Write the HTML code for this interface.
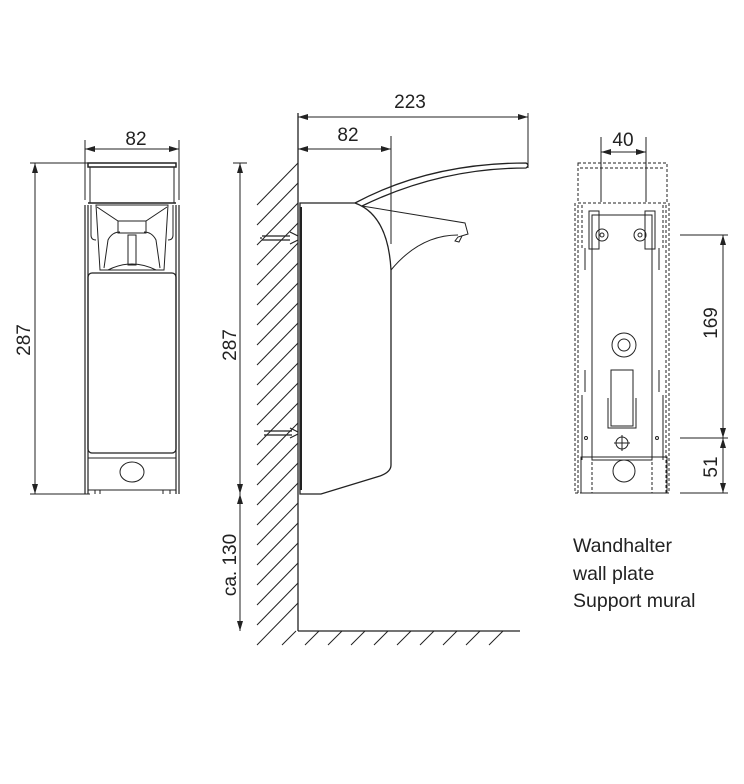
<!DOCTYPE html>
<html><head><meta charset="utf-8"><style>
html,body{margin:0;padding:0;background:#fff;}
svg{display:block;}
text{font-family:"Liberation Sans","DejaVu Sans",sans-serif;fill:#222;}
</style></head><body>
<svg width="744" height="784" viewBox="0 0 744 784" xmlns="http://www.w3.org/2000/svg">
<defs>
<marker id="a" viewBox="0 0 10 6" refX="10" refY="3" markerWidth="10" markerHeight="6" orient="auto-start-reverse" markerUnits="userSpaceOnUse"><path d="M0,0L10,3L0,6z" fill="#222"/></marker>
</defs>
<g stroke="#222" stroke-width="1" fill="none">
<!-- FRONT VIEW -->
<line x1="85" y1="140" x2="85" y2="200"/><line x1="179" y1="140" x2="179" y2="200"/>
<line x1="85" y1="149" x2="179" y2="149" marker-start="url(#a)" marker-end="url(#a)"/>
<line x1="30" y1="163" x2="90" y2="163"/><line x1="30" y1="494" x2="90" y2="494"/>
<line x1="35" y1="163" x2="35" y2="494" marker-start="url(#a)" marker-end="url(#a)"/>
<rect x="88" y="163" width="88" height="4" stroke-width="1.5"/>
<line x1="90" y1="167" x2="90" y2="203"/><line x1="174" y1="167" x2="174" y2="203"/>
<line x1="88" y1="203" x2="176" y2="203" stroke-width="1.5"/>
<path d="M85 205V494M88 205V494M179 205V494M176 205V494" stroke-width="1.2"/>
<path d="M96 205L100 270H164L168 205Z"/>
<path d="M97 207L118 221H146L167 207"/>
<rect x="118" y="221" width="28" height="12"/>
<path d="M104 268L108 240Q112 232 120 232M160 268L156 240Q152 232 144 232"/>
<path d="M108 270Q132 258 156 270"/>
<rect x="128" y="235" width="8" height="30"/>
<path d="M91 205v30q0 5 5 5M173 205v30q0 5 -5 5"/>
<rect x="88" y="273" width="88" height="180" rx="4" stroke-width="1.3"/>
<line x1="88" y1="458" x2="176" y2="458"/>
<line x1="88" y1="490" x2="176" y2="490"/>
<ellipse cx="132" cy="472" rx="12" ry="10"/>
<path d="M95 490v4M100 490v4M163 490v4M170 490v4"/>

<!-- SIDE VIEW -->
<line x1="298" y1="113" x2="298" y2="631" stroke-width="1.3"/>
<line x1="528" y1="113" x2="528" y2="168"/>
<line x1="298" y1="117" x2="528" y2="117" marker-start="url(#a)" marker-end="url(#a)"/>
<line x1="391" y1="136" x2="391" y2="244"/>
<line x1="298" y1="149" x2="391" y2="149" marker-start="url(#a)" marker-end="url(#a)"/>
<line x1="233" y1="163" x2="247" y2="163"/>
<line x1="240" y1="163" x2="240" y2="494" marker-start="url(#a)" marker-end="url(#a)"/>
<line x1="240" y1="494" x2="240" y2="631" marker-start="url(#a)" marker-end="url(#a)"/>
<line x1="298" y1="631" x2="520" y2="631" stroke-width="1.3"/>
<path d="M257 205l41-42M257 225l41-42M257 245l41-42M257 265l41-42M257 285l41-42M257 305l41-42M257 325l41-42M257 345l41-42M257 365l41-42M257 385l41-42M257 405l41-42M257 425l41-42M257 445l41-42M257 465l41-42M257 485l41-42M257 505l41-42M257 525l41-42M257 545l41-42M257 565l41-42M257 585l41-42M257 605l41-42M257 625l41-42M257 645l41-42"/>
<path d="M282 645l14-14M305 645l14-14M328 645l14-14M351 645l14-14M374 645l14-14M397 645l14-14M420 645l14-14M443 645l14-14M466 645l14-14M489 645l14-14"/>
<path d="M300 203H355Q388 215 391 270V465Q391 472 380 476L321 494H300Z" stroke-width="1.3" fill="#fff"/>
<path d="M355 203Q430 163 526 163Q530 165 526 168Q440 168 362 206" stroke-width="1.3"/>
<path d="M362 206L465 223L468 234L458 237L455 241L459 242L462 236M458 235Q420 235 391 270"/>
<path d="M301 207V490" stroke-width="2"/>
<path d="M262 236h28M262 240h28M262 238l-2 0M290 232l8 4M290 244l8-4M264 431h28M264 435h28M290 428l8 4M290 438l8-4" stroke-width="1.2"/>

<!-- REAR VIEW -->
<g stroke-dasharray="3 2">
<rect x="578" y="163" width="89" height="40"/>
<line x1="580" y1="168" x2="665" y2="168"/>
<path d="M575 203V493H592V457M669 203V493H652V457M578 205V493M666 205V493"/>
<path d="M582 205V250M663 205V250"/>
</g>
<line x1="601" y1="137" x2="601" y2="202"/><line x1="646" y1="137" x2="646" y2="202"/>
<line x1="601" y1="152" x2="646" y2="152" marker-start="url(#a)" marker-end="url(#a)"/>
<rect x="592" y="215" width="60" height="245"/>
<rect x="589" y="211" width="10" height="38"/><rect x="645" y="211" width="10" height="38"/>
<circle cx="602" cy="235" r="6"/><circle cx="602" cy="235" r="2"/>
<circle cx="640" cy="235" r="6"/><circle cx="640" cy="235" r="2"/>
<path d="M585 248v22M659 248v22M585 370v22M659 370v22M582 395V460M663 395V460"/>
<circle cx="624" cy="345" r="12"/><circle cx="624" cy="345" r="6"/>
<rect x="611" y="370" width="22" height="56"/>
<path d="M608 398V428H636V398"/>
<circle cx="622" cy="443" r="6"/><path d="M614 443h16M622 435v16"/>
<circle cx="586" cy="438" r="1.5"/><circle cx="657" cy="438" r="1.5"/>
<rect x="581" y="457" width="86" height="36"/>
<circle cx="624" cy="471" r="11"/>
<line x1="680" y1="235" x2="728" y2="235"/>
<line x1="680" y1="438" x2="728" y2="438"/>
<line x1="680" y1="493" x2="728" y2="493"/>
<line x1="723" y1="235" x2="723" y2="438" marker-start="url(#a)" marker-end="url(#a)"/>
<line x1="723" y1="438" x2="723" y2="493" marker-start="url(#a)" marker-end="url(#a)"/>
</g>
<g font-size="19">
<text x="136" y="145" text-anchor="middle">82</text>
<text x="410" y="108" text-anchor="middle">223</text>
<text x="348" y="141" text-anchor="middle">82</text>
<text x="623" y="146" text-anchor="middle">40</text>
<text transform="translate(30,340) rotate(-90)" text-anchor="middle">287</text>
<text transform="translate(236,345) rotate(-90)" text-anchor="middle">287</text>
<text transform="translate(236,565) rotate(-90)" text-anchor="middle">ca. 130</text>
<text transform="translate(717,323) rotate(-90)" text-anchor="middle">169</text>
<text transform="translate(717,467) rotate(-90)" text-anchor="middle">51</text>
</g>
<g font-size="19.5">
<text x="573" y="552">Wandhalter</text>
<text x="573" y="580">wall plate</text>
<text x="573" y="607">Support mural</text>
</g>
</svg>
</body></html>
